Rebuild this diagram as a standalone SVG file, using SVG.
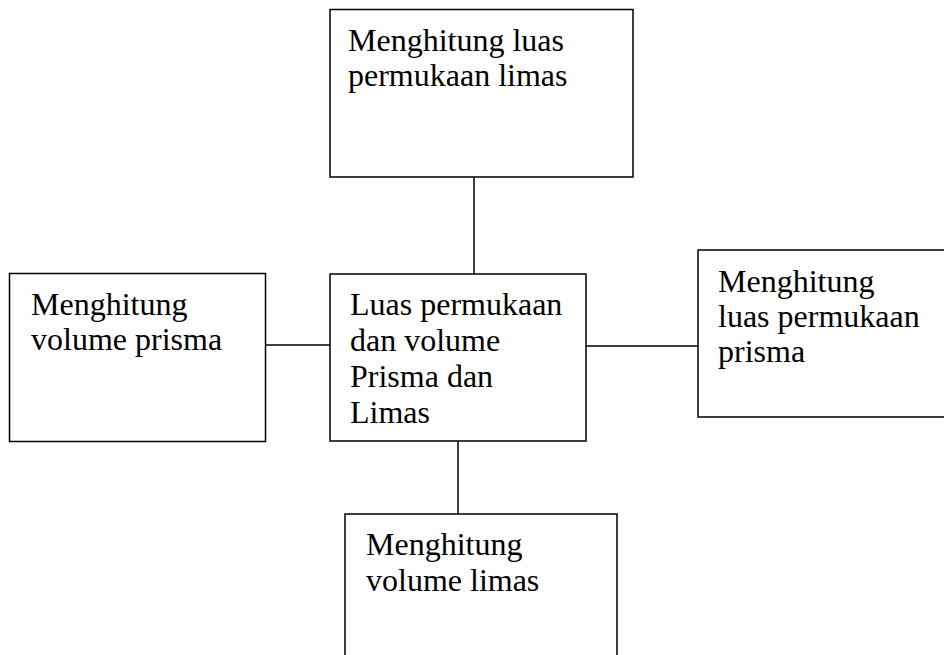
<svg xmlns="http://www.w3.org/2000/svg" width="944" height="655" viewBox="0 0 944 655">
<style>
.box{fill:#fff;stroke:#000;stroke-width:1.5}
.t{font-family:"Liberation Serif","Times New Roman",serif;font-size:32px;fill:#000}
.c{stroke:#000;stroke-width:1.5;fill:none}
</style>
<rect width="944" height="655" fill="#fff"/>
<g id="connectors">
<line class="c" x1="474" y1="177" x2="474" y2="274"/>
<line class="c" x1="266" y1="345" x2="330" y2="345"/>
<line class="c" x1="586" y1="346" x2="698" y2="346"/>
<line class="c" x1="458" y1="441" x2="458" y2="514"/>
</g>
<g id="top">
<rect class="box" x="330" y="9.5" width="303" height="167.5"/>
<text class="t" x="348" y="51">Menghitung luas</text>
<text class="t" x="348" y="86">permukaan limas</text>
</g>
<g id="left">
<rect class="box" x="9.5" y="273.5" width="256" height="168"/>
<text class="t" x="31" y="315">Menghitung</text>
<text class="t" x="31" y="350">volume prisma</text>
</g>
<g id="center">
<rect class="box" x="330" y="274" width="256" height="167"/>
<text class="t" x="350" y="315">Luas permukaan</text>
<text class="t" x="350" y="351">dan volume</text>
<text class="t" x="350" y="387">Prisma dan</text>
<text class="t" x="350" y="423">Limas</text>
</g>
<g id="right">
<rect class="box" x="698" y="250" width="260" height="167"/>
<text class="t" x="718" y="292">Menghitung</text>
<text class="t" x="718" y="327">luas permukaan</text>
<text class="t" x="718" y="362">prisma</text>
</g>
<g id="bottom">
<rect class="box" x="345" y="514" width="272" height="160"/>
<text class="t" x="366" y="555">Menghitung</text>
<text class="t" x="366" y="591">volume limas</text>
</g>
</svg>
